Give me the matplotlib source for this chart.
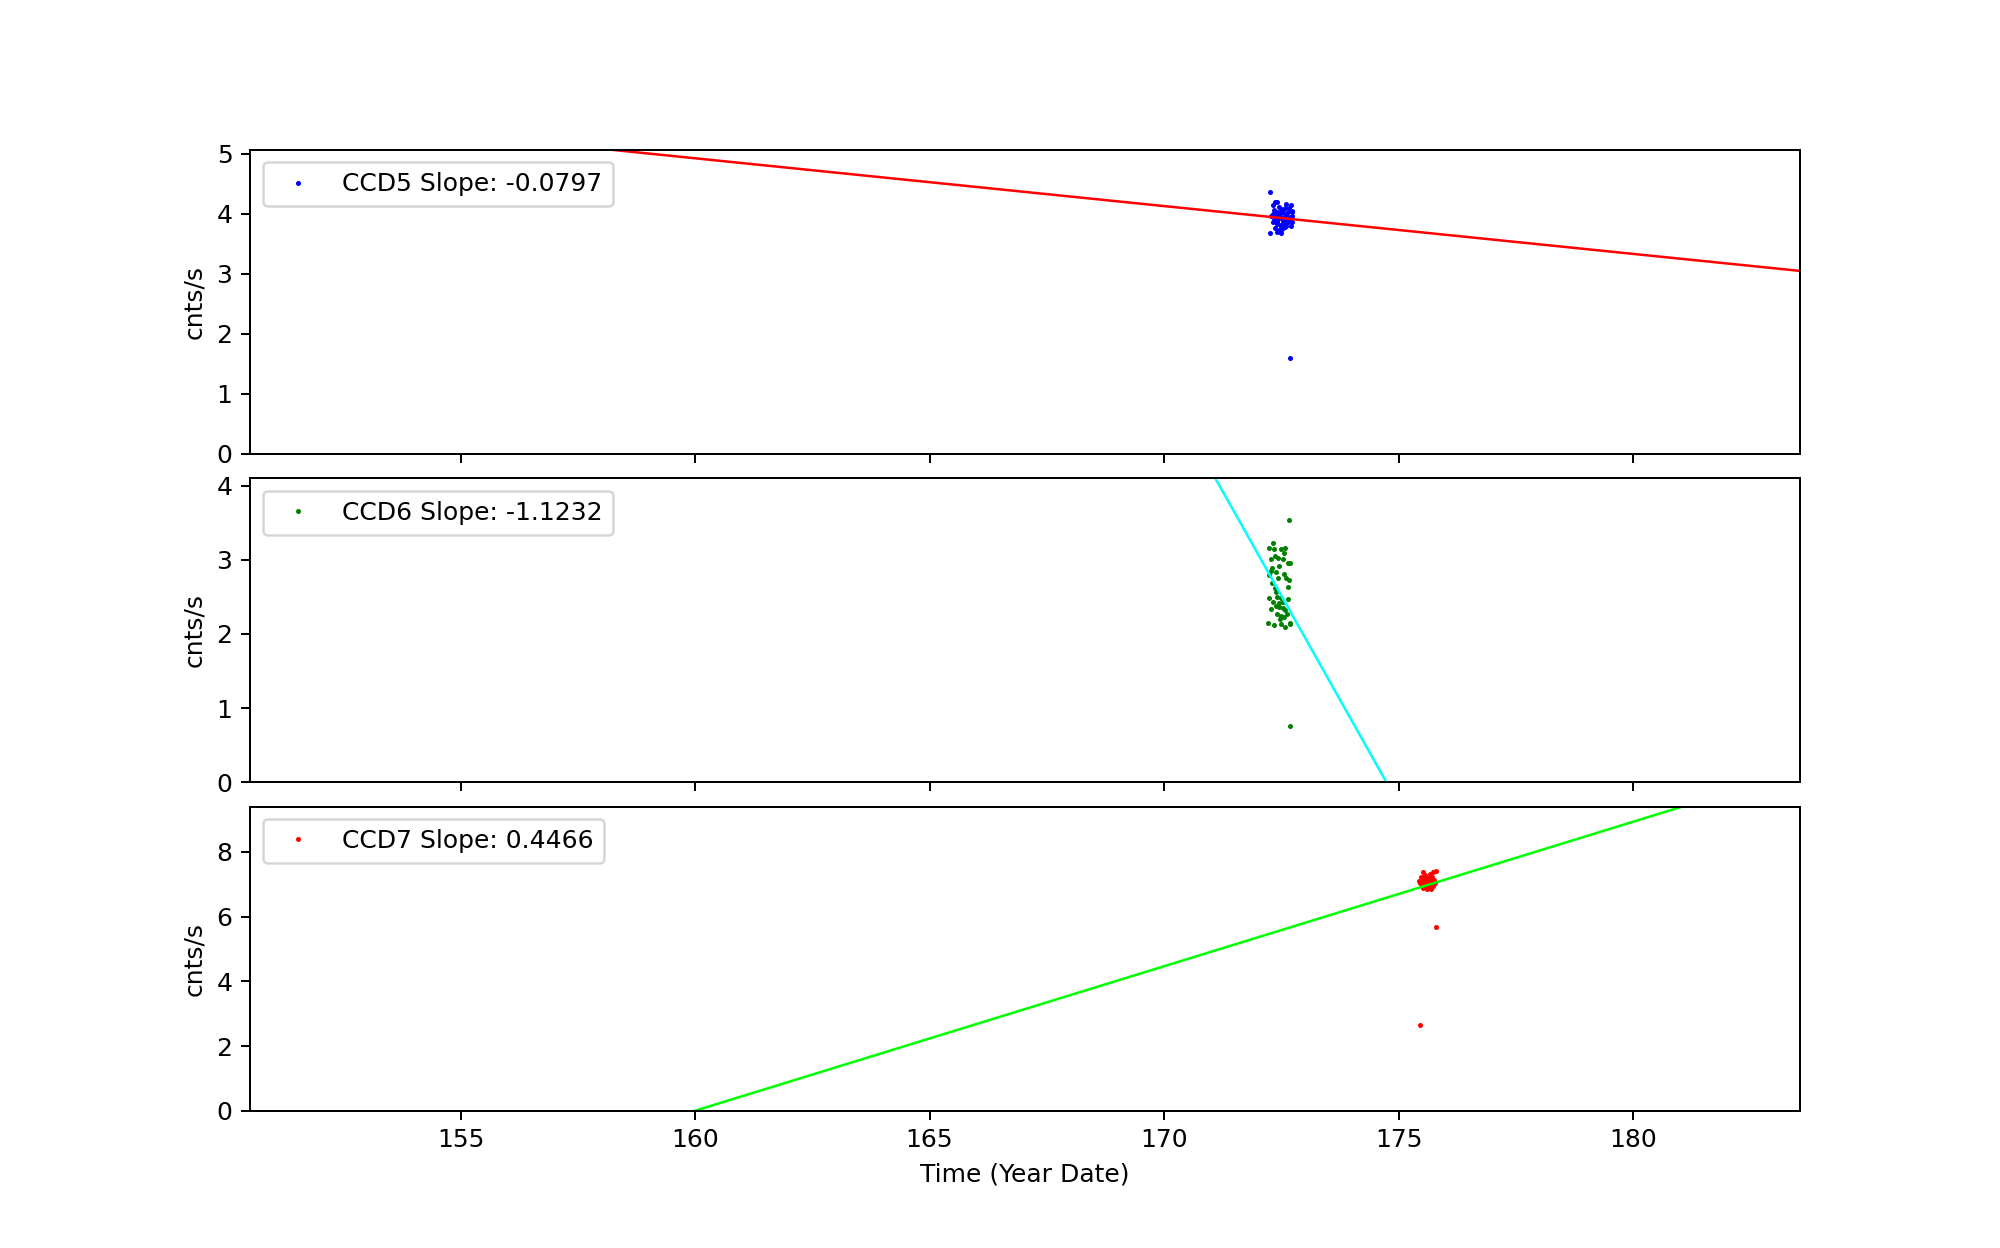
import matplotlib

matplotlib.use("Agg")
import matplotlib.pyplot as plt
import numpy as np

# CCD5 count rate (blue points)
ccd5_time = [
    172.26, 172.365, 172.315, 172.415, 172.599, 172.699, 172.656, 172.727, 172.344, 172.40,
    172.47, 172.54, 172.61, 172.685, 172.72, 172.365, 172.436, 172.507, 172.578, 172.649,
    172.72, 172.315, 172.40, 172.47, 172.54, 172.61, 172.372, 172.443, 172.514, 172.585,
    172.486, 172.40, 172.26, 172.699, 172.29, 172.73, 172.50, 172.443, 172.386, 172.457,
    172.557, 172.344, 172.67, 172.528, 172.599, 172.415, 172.33, 172.578, 172.649, 172.486,
    172.68,
]
ccd5_rate = [
    4.365, 4.196, 4.151, 4.207, 4.168, 4.151, 4.095, 4.055, 4.072, 4.027,
    3.993, 4.038, 3.982, 3.943, 3.96, 3.943, 3.915, 3.926, 3.892, 3.870,
    3.858, 3.858, 3.825, 3.813, 3.836, 3.802, 3.768, 3.735, 3.757, 3.780,
    3.690, 3.701, 3.690, 3.791, 3.960, 4.027, 4.083, 4.117, 3.982, 3.960,
    3.943, 3.903, 3.915, 3.881, 3.847, 3.870, 4.005, 4.106, 4.027, 4.038,
    1.59,
]

# CCD6 count rate (green points)
ccd6_time = [
    172.67, 172.33, 172.245, 172.337, 172.50, 172.586, 172.557, 172.358, 172.422, 172.273,
    172.529, 172.635, 172.685, 172.458, 172.301, 172.273, 172.387, 172.557, 172.23, 172.43,
    172.60, 172.657, 172.294, 172.358, 172.635, 172.387, 172.245, 172.415, 172.50, 172.635,
    172.33, 172.443, 172.529, 172.387, 172.458, 172.273, 172.529, 172.586, 172.486, 172.557,
    172.472, 172.685, 172.223, 172.351, 172.50, 172.586, 172.685, 172.415, 172.614, 172.685,
]
ccd6_rate = [
    3.54, 3.224, 3.157, 3.143, 3.143, 3.157, 3.089, 3.053, 3.021, 3.008,
    3.008, 2.963, 2.958, 2.917, 2.895, 2.85, 2.841, 2.814, 2.796, 2.76,
    2.75, 2.732, 2.692, 2.615, 2.633, 2.57, 2.48, 2.503, 2.48, 2.466,
    2.435, 2.421, 2.43, 2.376, 2.363, 2.331, 2.345, 2.318, 2.241, 2.227,
    2.196, 2.151, 2.142, 2.115, 2.128, 2.092, 2.128, 2.264, 2.264, 0.761,
]

# CCD7 count rate (red points)
ccd7_time = [
    175.527, 175.74, 175.79, 175.47, 175.563, 175.634, 175.705, 175.442, 175.527, 175.598,
    175.684, 175.755, 175.492, 175.584, 175.655, 175.726, 175.513, 175.613, 175.698, 175.541,
    175.456, 175.67, 175.776, 175.563, 175.634, 175.79, 175.45,
]
ccd7_rate = [
    7.367, 7.387, 7.41, 7.233, 7.284, 7.202, 7.233, 7.099, 7.13, 7.079,
    7.099, 7.12, 6.996, 6.955, 6.976, 6.935, 6.873, 6.852, 6.852, 7.202,
    7.027, 7.305, 7.027, 7.058, 7.13, 5.68, 2.65,
]

ccd_names = ["CCD5", "CCD6", "CCD7"]
slopes = [-0.0797, -1.1232, 0.4466]
intercepts = [17.68, 196.27, -71.456]
point_colors = ["blue", "green", "red"]
line_colors = ["red", "aqua", "lime"]
y_max = [5.07, 4.1, 9.4]

times = [ccd5_time, ccd6_time, ccd7_time]
rates = [ccd5_rate, ccd6_rate, ccd7_rate]

x_min, x_max = 150.51, 183.56

dpi = 180
fig, axes = plt.subplots(3, 1, sharex=True, figsize=(2000 / dpi, 1248 / dpi))
fig.subplots_adjust(hspace=0.08)

for i, ax in enumerate(axes):
    ax.plot(
        times[i], rates[i], marker=".", markersize=2, linestyle="None",
        color=point_colors[i], label=f"{ccd_names[i]} Slope: {slopes[i]:.4f}",
    )

    # fitted trend line
    xx = np.array([x_min - 1, x_max + 1])
    ax.plot(xx, intercepts[i] + slopes[i] * xx, color=line_colors[i], lw=1)

    ax.set_xlim(x_min, x_max)
    ax.set_ylim(0, y_max[i])
    ax.set_ylabel("cnts/s")
    ax.legend(loc="upper left")

axes[-1].set_xlabel("Time (Year Date)")

plt.savefig("out.png", dpi=dpi)
